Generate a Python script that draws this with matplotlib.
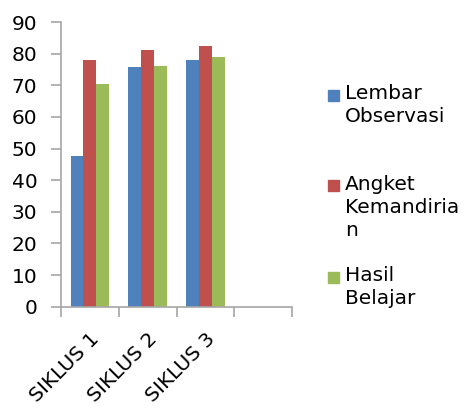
import numpy as np
import matplotlib
matplotlib.use("Agg")
import matplotlib.pyplot as plt
from matplotlib.patches import Rectangle

categories = ["SIKLUS 1", "SIKLUS 2", "SIKLUS 3"]
series_names = ["Lembar\nObservasi", "Angket\nKemandiria\nn", "Hasil\nBelajar"]
lembar_observasi = [47.5, 75.7, 78.0]
angket_kemandirian = [78.0, 81.3, 82.5]
hasil_belajar = [70.4, 76.0, 78.9]
colors = ["#4F81BD", "#C0504D", "#9BBB59"]
yticks = list(range(0, 100, 10))

plt.rcParams['font.family'] = ['DejaVu Sans']
axis_gray = "#a6a6a6"

fig = plt.figure(figsize=(4.7, 4.08), dpi=100)
ax = fig.add_axes([61 / 470, 1 - 306.7 / 408, 231 / 470, 284.7 / 408])

x = np.arange(len(categories))
w = 0.221
for i, vals in enumerate([lembar_observasi, angket_kemandirian, hasil_belajar]):
    ax.bar(x + (i - 1) * w, vals, width=w, color=colors[i], edgecolor="none", zorder=2)

# the chart has a fourth, empty category slot
ax.set_xlim(-0.5, 3.5)
ax.set_ylim(0, 90)
ax.set_yticks(yticks)
ax.set_yticklabels([str(v) for v in yticks], fontsize=14.5, color="#000000")
ax.set_xticks(np.arange(-0.5, 4.0, 1.0))
ax.set_xticklabels([])
ax.set_xticks(x, minor=True)
ax.set_xticklabels(categories, minor=True, rotation=45, ha="right", va="top",
                   rotation_mode="anchor", fontsize=14.5)
ax.tick_params(axis="x", which="minor", length=0, pad=16)
ax.tick_params(axis="x", which="major", direction="out", length=7, width=1.2, color=axis_gray)
ax.tick_params(axis="y", direction="out", length=7, width=1.2, color=axis_gray, pad=10)

for s in ["top", "right"]:
    ax.spines[s].set_visible(False)
for s in ["left", "bottom"]:
    ax.spines[s].set_color(axis_gray)
    ax.spines[s].set_linewidth(1.2)

# legend, Excel style: entries at a fixed pitch, square beside the first line
top_y = [95, 186, 277]
for i, name in enumerate(series_names):
    yc = 1 - top_y[i] / 408
    fig.patches.append(Rectangle((327.5 / 470, yc - 5.5 / 408), 11 / 470, 11 / 408,
                                 transform=fig.transFigure, color=colors[i]))
    fig.text(345 / 470, yc + 11 / 408, name, fontsize=14.5, va="top", ha="left",
             linespacing=1.28)

fig.savefig("out.png", dpi=100)
